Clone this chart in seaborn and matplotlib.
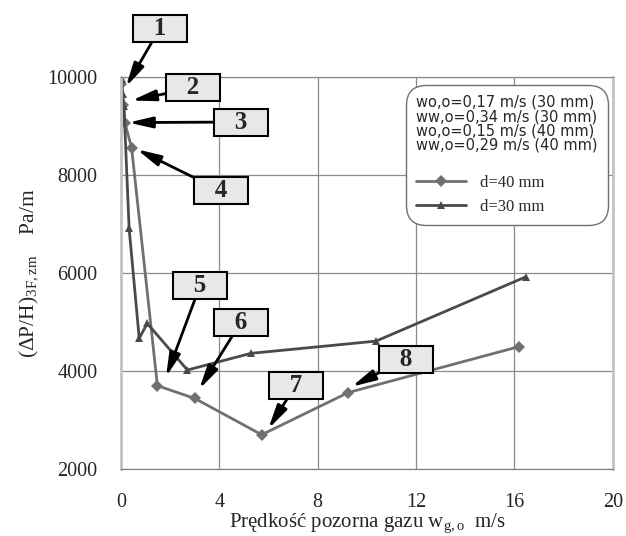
import numpy as np
import pandas as pd
import matplotlib
matplotlib.use("Agg")
import matplotlib.pyplot as plt
import seaborn as sns

# superficial gas velocity [m/s] and pressure drop per unit height [Pa/m]
w_d40 = [0.0, 0.10, 0.16, 0.43, 1.48, 3.00, 5.72, 9.24, 16.2]
dp_d40 = [9850, 9420, 9060, 8560, 3700, 3440, 2700, 3560, 4500]

w_d30 = [0.03, 0.07, 0.12, 0.33, 0.74, 1.07, 2.70, 5.28, 10.37, 16.45]
dp_d30 = [9950, 9650, 9400, 6910, 4670, 4970, 4020, 4360, 4610, 5920]

series_names = ["d=40 mm", "d=30 mm"]
legend_title = ("wo,o=0,17 m/s (30 mm)\nww,o=0,34 m/s (30 mm)\n"
                "wo,o=0,15 m/s (40 mm)\nww,o=0,29 m/s (40 mm)\n")

# callouts: label, point the arrow hits, box centre
callout_labels = ["1", "2", "3", "4", "5", "6", "7", "8"]
callout_points = [(0.2, 9800), (0.43, 9520), (0.3, 9070), (0.64, 8525),
                  (1.83, 3880), (3.18, 3630), (5.99, 2820), (9.38, 3680)]
callout_boxes = [(1.59, 11000), (2.93, 9776), (4.88, 9082), (4.07, 7674),
                 (3.21, 5735), (4.88, 5000), (7.11, 3714), (11.59, 4245)]

df = pd.concat([
    pd.DataFrame({"w": w_d40, "dp": dp_d40, "seria": series_names[0]}),
    pd.DataFrame({"w": w_d30, "dp": dp_d30, "seria": series_names[1]}),
])

sns.set_style("white")
plt.rcParams["font.family"] = ["Liberation Serif", "DejaVu Serif"]
plt.rcParams["mathtext.fontset"] = "custom"
plt.rcParams["mathtext.rm"] = "Liberation Serif"
plt.rcParams["mathtext.it"] = "Liberation Serif:italic"

fig = plt.figure(figsize=(6.26, 5.36), dpi=100)
ax = fig.add_axes([0.1933, 0.125, 0.7857, 0.7313])

sns.lineplot(data=df, x="w", y="dp", hue="seria", style="seria",
             palette={series_names[0]: "#707070", series_names[1]: "#4a4a4a"},
             markers={series_names[0]: "D", series_names[1]: "^"},
             dashes=False, estimator=None, sort=False, linewidth=2,
             markersize=6, markeredgewidth=0, ax=ax)

ax.set_xlim(0, 20)
ax.set_ylim(2000, 10000)
ax.set_xticks(np.arange(0, 21, 4))
ax.set_xticks(np.arange(0, 21, 2), minor=True)
ax.set_yticks(np.arange(2000, 10001, 2000))
ax.set_yticks(np.arange(2000, 10001, 1000), minor=True)
ax.grid(True, which="major", color="#8a8a8a", linewidth=0.9)
ax.tick_params(which="major", direction="out", length=7, color="#8a8a8a",
               labelsize=14.5)
ax.tick_params(which="minor", direction="out", length=4, color="#8a8a8a")
ax.tick_params(axis="y", pad=10)
ax.tick_params(axis="x", pad=10)
for s in ["left", "right"]:
    ax.spines[s].set_color("#c4c4c4")
    ax.spines[s].set_linewidth(2)
ax.spines["bottom"].set_color("#7a7a7a")
ax.spines["top"].set_color("#8a8a8a")
ax.spines["top"].set_linewidth(0.9)

ax.set_xlabel(r"Prędkość pozorna gazu w$_{\mathregular{g,o}}$  m/s", fontsize=15,
              labelpad=0)
ax.set_ylabel(r"($\Delta$P/H)$_{\mathregular{3F,zm}}$    Pa/m", fontsize=15.5,
              labelpad=5)

leg = ax.legend(title=legend_title, alignment="left", loc="upper right",
                bbox_to_anchor=(0.990, 0.980), borderaxespad=0, fontsize=12,
                frameon=True, fancybox=True, handlelength=3.0,
                handletextpad=0.8, labelspacing=0.5, borderpad=0.6,
                title_fontproperties={"family": "DejaVu Sans", "size": 10.5})
leg.get_title().set_linespacing(0.93)
frame = leg.get_frame()
frame.set_boxstyle("round,pad=0,rounding_size=1.2")
frame.set_edgecolor("#707070")
frame.set_linewidth(1.0)
frame.set_alpha(1)

for lab, pt, box in zip(callout_labels, callout_points, callout_boxes):
    ax.annotate("   " + lab + "   ", xy=pt, xytext=box, ha="center", va="center",
                fontsize=18, fontweight="bold", annotation_clip=False,
                bbox=dict(boxstyle="square,pad=0.08", fc="#e8e8e8", ec="black",
                          lw=1.5),
                arrowprops=dict(arrowstyle="-|>,head_length=1.3,head_width=0.3",
                                color="black", lw=2, shrinkA=0, shrinkB=0,
                                mutation_scale=11))

fig.savefig("out.png", dpi=100)
